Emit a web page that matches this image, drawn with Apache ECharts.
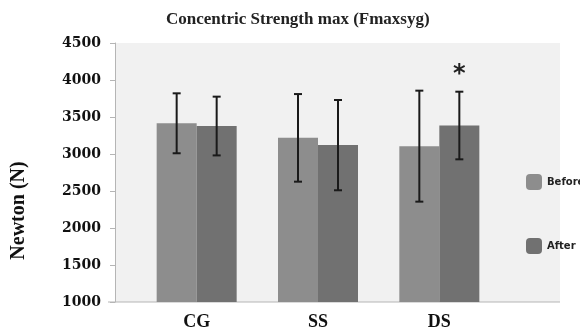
<!DOCTYPE html>
<html lang="en" style="height: 100%">
<head>
<meta charset="utf-8">
<title>Concentric Strength max</title>
</head>
<body style="height: 100%; margin: 0; background: #fff">
<div id="container" style="height: 100%"></div>
<script type="text/javascript" src="https://cdn.jsdelivr.net/npm/echarts/dist/echarts.min.js"></script>
<script type="text/javascript">

var groups = ['CG', 'SS', 'DS'];
var beforeMean = [3415, 3218, 3106];
var beforeSD = [405, 592, 750];
var afterMean = [3378, 3120, 3385];
var afterSD = [397, 610, 457];
var sigMarks = ['', '', '*'];

var dom = document.getElementById('container');
var myChart = echarts.init(dom, null, {width: 580, height: 331});

var serif = '"Liberation Serif", "DejaVu Serif", serif';
var barW = 40;

function errData(mean, sd) {
    return mean.map(function (m, i) { return [i, m - sd[i], m + sd[i]]; });
}

// vertical error bar with caps, shifted onto the Before / After bar
function errRender(shift, showSig) {
    return function (params, api) {
        var lo = api.coord([api.value(0), api.value(1)]);
        var hi = api.coord([api.value(0), api.value(2)]);
        var x = lo[0] + shift;
        var cap = 4;
        var style = {stroke: '#1a1a1a', lineWidth: 2};
        var children = [
            {type: 'line', shape: {x1: x, y1: hi[1], x2: x, y2: lo[1]}, style: style},
            {type: 'line', shape: {x1: x - cap, y1: hi[1], x2: x + cap, y2: hi[1]}, style: style},
            {type: 'line', shape: {x1: x - cap, y1: lo[1], x2: x + cap, y2: lo[1]}, style: style}
        ];
        var mark = sigMarks[params.dataIndex];
        if (showSig && mark) {
            children.push({
                type: 'text',
                style: {
                    text: mark, x: x, y: hi[1] - 17,
                    align: 'center', verticalAlign: 'middle',
                    font: 'bold 24px "DejaVu Sans", sans-serif', fill: '#222'
                }
            });
        }
        return {type: 'group', children: children};
    };
}

var option = {
    animation: false,
    title: {
        text: 'Concentric Strength max (Fmaxsyg)',
        left: 161,
        top: 6,
        textStyle: {fontFamily: serif, fontWeight: 'bold', fontSize: 17, color: '#222'}
    },
    graphic: [
        {
            type: 'rect', z: -10, silent: true,
            shape: {x: 115, y: 43, width: 445, height: 259},
            style: {fill: '#f1f1f1'}
        },
        {
            type: 'line', z: -9, silent: true,
            shape: {x1: 108, y1: 302, x2: 560, y2: 302},
            style: {stroke: '#b5b5b5', lineWidth: 1}
        }
    ],
    legend: {
        orient: 'vertical',
        left: 521,
        top: 169,
        itemWidth: 16,
        itemHeight: 16,
        itemGap: 48,
        icon: 'roundRect',
        data: ['Before', 'After'],
        textStyle: {fontFamily: '"DejaVu Sans", sans-serif', fontWeight: 'bold', fontSize: 10, color: '#222'}
    },
    grid: {left: 136, right: 80, top: 43, bottom: 29},
    xAxis: {
        type: 'category',
        data: groups,
        axisLine: {show: false},
        axisTick: {show: false},
        axisLabel: {
            margin: 11,
            fontFamily: serif, fontWeight: 'bold', fontSize: 18, color: '#111'
        }
    },
    yAxis: {
        type: 'value',
        min: 1000,
        max: 4500,
        interval: 500,
        offset: 21,
        name: 'Newton (N)',
        nameLocation: 'middle',
        nameRotate: 90,
        nameGap: 86,
        nameTextStyle: {
            fontFamily: serif, fontWeight: 'bold', fontSize: 20, color: '#111',
            padding: [0, 76, 0, 0]
        },
        axisLine: {show: true, lineStyle: {color: '#b5b5b5'}},
        axisTick: {show: true, length: 5, lineStyle: {color: '#b5b5b5'}},
        splitLine: {show: false},
        axisLabel: {
            margin: 14,
            formatter: function (v) { return String(v); },
            fontFamily: '"DejaVu Serif", serif', fontWeight: 'bold', fontSize: 14, color: '#111'
        }
    },
    series: [
        {
            name: 'Before', type: 'bar', data: beforeMean,
            barWidth: barW, barGap: '0%',
            itemStyle: {color: '#8d8d8d'}
        },
        {
            name: 'After', type: 'bar', data: afterMean,
            barWidth: barW, barGap: '0%',
            itemStyle: {color: '#717171'}
        },
        {
            type: 'custom', z: 5,
            renderItem: errRender(-barW / 2, false),
            encode: {x: 0, y: [1, 2]},
            data: errData(beforeMean, beforeSD)
        },
        {
            type: 'custom', z: 5,
            renderItem: errRender(barW / 2, true),
            encode: {x: 0, y: [1, 2]},
            data: errData(afterMean, afterSD)
        }
    ]
};

myChart.setOption(option);
window.addEventListener('resize', myChart.resize);
</script>
</body>
</html>
